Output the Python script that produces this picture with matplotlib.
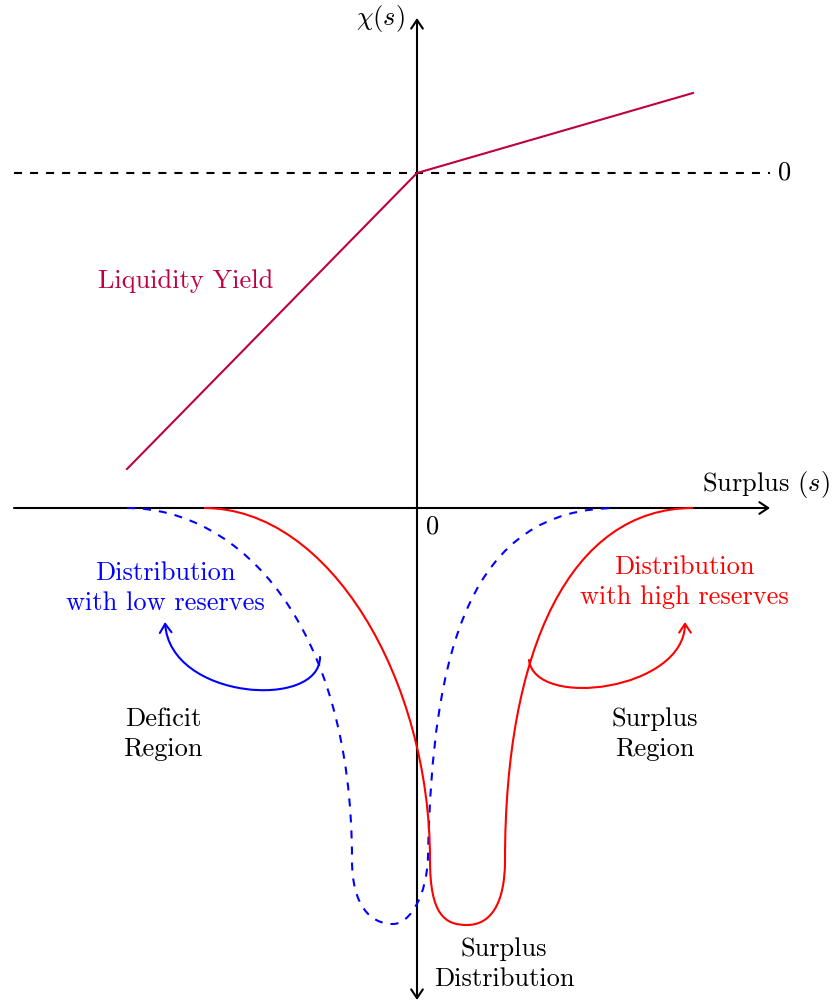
import matplotlib
matplotlib.use("Agg")
import matplotlib.pyplot as plt
from matplotlib.path import Path
from matplotlib.patches import PathPatch, FancyArrowPatch

plt.rcParams['mathtext.fontset'] = 'cm'
plt.rcParams['font.family'] = ['cmr10', 'DejaVu Serif']
plt.rcParams['axes.unicode_minus'] = False

# ---- data (diagram units, origin at the axes crossing) ----
liquidity_x = [-290, 0, 276]
liquidity_y = [39, 335, 415]

zero_level = 335
axis_x_range = [-403, 353]
axis_y_range = [-492, 490]

# cubic Bezier chains: start point, then (c1, c2, end) triples
low_reserves_curve = [(-290, 0),
                      (-177, 0), (-65, -117), (-65, -352),
                      (-65, -397), (-47, -416), (-24, -416),
                      (-7, -416), (10, -387), (11, -349),
                      (15, -142), (53, 0), (200, 0)]
high_reserves_curve = [(-213, 0),
                       (-87, 0), (13, -172), (13, -352),
                       (13, -407), (28, -417), (50, -417),
                       (73, -417), (88, -397), (88, -352),
                       (88, -142), (153, 0), (276, 0)]
low_arrow = [(-97, -149), (-97, -202), (-247, -192), (-252, -114)]
high_arrow = [(112, -152), (118, -202), (268, -182), (268, -114)]

labels = {
    "liquidity": "Liquidity Yield",
    "xlabel": "Surplus $(s)$",
    "ylabel": r"$\chi(s)$",
    "low": "Distribution\nwith low reserves",
    "high": "Distribution\nwith high reserves",
    "deficit": "Deficit\nRegion",
    "surplus": "Surplus\nRegion",
    "dist": "Surplus\nDistribution",
}

BLUE = "#0000FF"
RED = "#FF0000"
PURPLE = "#BF0040"

fig = plt.figure(figsize=(8.35, 10.01), dpi=100)
ax = fig.add_axes([0, 0, 1, 1])
ax.set_xlim(-417, 418)
ax.set_ylim(-493, 508)
ax.axis('off')

def bez_path(pts):
    codes = [Path.MOVETO] + [Path.CURVE4] * (len(pts) - 1)
    return Path(pts, codes)

LW = 1.5
FS = 19
LS = 1.36
DASH = (0, (3.85, 3.85))
ARROW = '->,head_length=0.45,head_width=0.3'

# dashed zero line
ax.plot(axis_x_range, [zero_level, zero_level], color='black', lw=LW,
        linestyle=DASH)
ax.text(368, zero_level, "0", fontsize=FS, ha='center', va='center')

# axes
ax.add_patch(FancyArrowPatch((axis_x_range[0], 0), (axis_x_range[1], 0),
                             arrowstyle=ARROW, mutation_scale=14, lw=LW,
                             color='black', shrinkA=0, shrinkB=0, zorder=3))
ax.add_patch(FancyArrowPatch((0, axis_y_range[0]), (0, axis_y_range[1]),
                             arrowstyle='<' + ARROW, mutation_scale=14, lw=LW,
                             color='black', shrinkA=0, shrinkB=0, zorder=3))

# liquidity yield
ax.plot(liquidity_x, liquidity_y, color=PURPLE, lw=LW, zorder=4)
ax.text(-231, 227, labels["liquidity"], color=PURPLE, fontsize=FS,
        ha='center', va='center')

# distributions
ax.add_patch(PathPatch(bez_path(low_reserves_curve), fill=False, edgecolor=BLUE,
                       lw=LW, linestyle=DASH, zorder=4))
ax.add_patch(PathPatch(bez_path(high_reserves_curve), fill=False, edgecolor=RED,
                       lw=LW, zorder=5))

# curved arrows
ax.add_patch(FancyArrowPatch(path=bez_path(low_arrow), arrowstyle=ARROW,
                             mutation_scale=14, lw=LW, color=BLUE, zorder=5))
ax.add_patch(FancyArrowPatch(path=bez_path(high_arrow), arrowstyle=ARROW,
                             mutation_scale=14, lw=LW, color=RED, zorder=5))

# texts
ax.text(-12, 490, labels["ylabel"], fontsize=FS, ha='right', va='center')
ax.text(349, 24, labels["xlabel"], fontsize=FS, ha='center', va='center')
ax.text(16, -19, "0", fontsize=FS, ha='center', va='center')
for key, x, y, col in [("low", -252, -80, BLUE), ("high", 267, -74, RED),
                       ("deficit", -254, -226, 'black'),
                       ("surplus", 238, -226, 'black'),
                       ("dist", 87, -456, 'black')]:
    ax.text(x, y, labels[key], color=col, fontsize=FS, ha='center',
            va='center', multialignment='center', linespacing=LS)

fig.savefig("out.png", dpi=100)
